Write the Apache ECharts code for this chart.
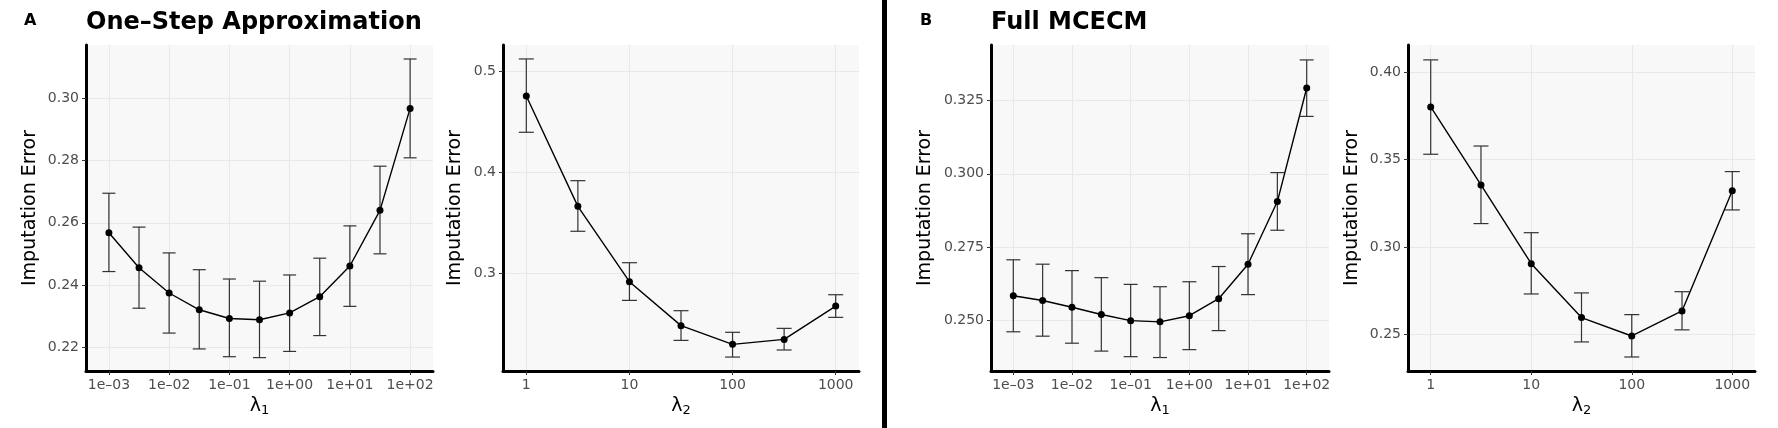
<!DOCTYPE html>
<html>
<head>
<meta charset="utf-8">
<script src="https://cdn.jsdelivr.net/npm/echarts@6/dist/echarts.min.js"></script>
<style>
html,body{margin:0;padding:0;background:#fff;}
#main{width:1778px;height:428px;}
</style>
</head>
<body>
<div id="main"></div>
<script>
// ---- data (x positions are log10 of lambda) ----
const lambda1Log = [-3, -2.5, -2, -1.5, -1, -0.5, 0, 0.5, 1, 1.5, 2];
const lambda2Log = [0, 0.5, 1, 1.5, 2, 2.5, 3];

const lambda1TickPos = [-3, -2, -1, 0, 1, 2];
const lambda1TickLabels = ['1e–03', '1e–02', '1e–01', '1e+00', '1e+01', '1e+02'];
const lambda2TickPos = [0, 1, 2, 3];
const lambda2TickLabels = ['1', '10', '100', '1000'];

// Panel A, lambda1
const a1Mean = [0.2568, 0.2455, 0.2374, 0.2320, 0.2292, 0.2288, 0.2310, 0.2362, 0.2461, 0.2640, 0.2968];
const a1Low  = [0.2443, 0.2325, 0.2245, 0.2194, 0.2169, 0.2166, 0.2186, 0.2237, 0.2331, 0.2500, 0.2809];
const a1High = [0.2695, 0.2586, 0.2503, 0.2449, 0.2419, 0.2412, 0.2432, 0.2486, 0.2590, 0.2782, 0.3127];
// Panel A, lambda2
const a2Mean = [0.4752, 0.3660, 0.2914, 0.2479, 0.2294, 0.2343, 0.2673];
const a2Low  = [0.4393, 0.3413, 0.2729, 0.2333, 0.2168, 0.2238, 0.2561];
const a2High = [0.5119, 0.3914, 0.3102, 0.2627, 0.2413, 0.2452, 0.2785];
// Panel B, lambda1
const b1Mean = [0.2583, 0.2567, 0.2544, 0.2519, 0.2498, 0.2494, 0.2515, 0.2573, 0.2691, 0.2905, 0.3293];
const b1Low  = [0.2460, 0.2445, 0.2421, 0.2394, 0.2375, 0.2372, 0.2399, 0.2464, 0.2587, 0.2807, 0.3196];
const b1High = [0.2706, 0.2691, 0.2669, 0.2645, 0.2622, 0.2614, 0.2631, 0.2683, 0.2795, 0.3004, 0.3389];
// Panel B, lambda2
const b2Mean = [0.3800, 0.3355, 0.2905, 0.2597, 0.2492, 0.2635, 0.3322];
const b2Low  = [0.3530, 0.3134, 0.2732, 0.2458, 0.2372, 0.2527, 0.3212];
const b2High = [0.4069, 0.3577, 0.3082, 0.2738, 0.2614, 0.2745, 0.3431];

const a1YTicks = [0.22, 0.24, 0.26, 0.28, 0.30];
const a2YTicks = [0.3, 0.4, 0.5];
const b1YTicks = [0.250, 0.275, 0.300, 0.325];
const b2YTicks = [0.25, 0.30, 0.35, 0.40];

const titleA = 'One–Step Approximation';
const titleB = 'Full MCECM';
const yName = 'Imputation Error';

// ---- layout ----
const FONT = 'DejaVu Sans';
const panels = [
  {left: 86,   width: 347, x: lambda1Log, mean: a1Mean, lo: a1Low, hi: a1High, xt: lambda1TickPos, xl: lambda1TickLabels,
   xmin: -3.38, xmax: 2.38, ymin: 0.2123, ymax: 0.3172, yt: a1YTicks, yd: 2, sub: '1', gap: 46, cap: 13},
  {left: 503,  width: 356, x: lambda2Log, mean: a2Mean, lo: a2Low, hi: a2High, xt: lambda2TickPos, xl: lambda2TickLabels,
   xmin: -0.226, xmax: 3.226, ymin: 0.2030, ymax: 0.5257, yt: a2YTicks, yd: 1, sub: '2', gap: 38, cap: 15},
  {left: 991,  width: 338, x: lambda1Log, mean: b1Mean, lo: b1Low, hi: b1High, xt: lambda1TickPos, xl: lambda1TickLabels,
   xmin: -3.38, xmax: 2.38, ymin: 0.2326, ymax: 0.3440, yt: b1YTicks, yd: 3, sub: '1', gap: 56, cap: 14},
  {left: 1408, width: 347, x: lambda2Log, mean: b2Mean, lo: b2Low, hi: b2High, xt: lambda2TickPos, xl: lambda2TickLabels,
   xmin: -0.226, xmax: 3.226, ymin: 0.2292, ymax: 0.4154, yt: b2YTicks, yd: 2, sub: '2', gap: 46, cap: 15}
];

const grid = [], xAxis = [], yAxis = [], series = [];
panels.forEach((p, i) => {
  grid.push({left: p.left, top: 45, width: p.width, height: 326, show: true,
    backgroundColor: '#f8f8f8', borderWidth: 0});
  xAxis.push({
    type: 'value', gridIndex: i, min: p.xmin, max: p.xmax,
    name: '{l|λ}{s|' + p.sub + '}', nameLocation: 'middle', nameGap: 25,
    nameTextStyle: {rich: {
      l: {fontFamily: FONT, fontSize: 19, color: '#000'},
      s: {fontFamily: FONT, fontSize: 13, color: '#000', verticalAlign: 'bottom', padding: [8, 0, 0, 0]}
    }},
    axisLine: {show: true, onZero: false, lineStyle: {color: '#000', width: 3}},
    axisTick: {show: true, length: 4, lineStyle: {color: '#333', width: 1}, customValues: p.xt},
    axisLabel: {customValues: p.xt, margin: 7, fontFamily: FONT, fontSize: 14, color: '#4d4d4d',
      formatter: v => { const k = p.xt.indexOf(v); return k >= 0 ? p.xl[k] : ''; }},
    splitLine: {show: true, lineStyle: {color: '#e8e8e8', width: 1}}
  });
  yAxis.push({
    type: 'value', gridIndex: i, min: p.ymin, max: p.ymax,
    name: yName, nameLocation: 'middle', nameGap: p.gap, nameRotate: 90,
    nameTextStyle: {fontFamily: FONT, fontSize: 19, color: '#000'},
    axisLine: {show: true, onZero: false, lineStyle: {color: '#000', width: 3}},
    axisTick: {show: true, length: 4, lineStyle: {color: '#333', width: 1}, customValues: p.yt},
    axisLabel: {customValues: p.yt, margin: 7, fontFamily: FONT, fontSize: 14, color: '#4d4d4d',
      formatter: v => v.toFixed(p.yd)},
    splitLine: {show: true, lineStyle: {color: '#e8e8e8', width: 1}}
  });
  const errData = p.x.map((x, k) => [x, p.lo[k], p.hi[k]]);
  const cap = p.cap;
  series.push({
    type: 'custom', xAxisIndex: i, yAxisIndex: i, data: errData, z: 2,
    renderItem: (params, api) => {
      const x = api.value(0), lo = api.value(1), hi = api.value(2);
      const a = api.coord([x, hi]), b = api.coord([x, lo]);
      const w = cap / 2;
      const st = {stroke: '#333', lineWidth: 1.2};
      return {type: 'group', children: [
        {type: 'line', shape: {x1: a[0], y1: a[1], x2: b[0], y2: b[1]}, style: st},
        {type: 'line', shape: {x1: a[0] - w, y1: a[1], x2: a[0] + w, y2: a[1]}, style: st},
        {type: 'line', shape: {x1: b[0] - w, y1: b[1], x2: b[0] + w, y2: b[1]}, style: st}
      ]};
    }
  });
  series.push({
    type: 'line', xAxisIndex: i, yAxisIndex: i, z: 3,
    data: p.x.map((x, k) => [x, p.mean[k]]),
    symbol: 'circle', symbolSize: 7, showSymbol: true,
    itemStyle: {color: '#000'}, lineStyle: {color: '#000', width: 1.4}
  });
});

const chart = echarts.init(document.getElementById('main'), null, {renderer: 'canvas'});
chart.setOption({
  animation: false,
  backgroundColor: '#fff',
  title: [
    {text: 'A', left: 24, top: 13, padding: 0, textStyle: {fontFamily: FONT, fontWeight: 'bold', fontSize: 16, color: '#000'}},
    {text: titleA, left: 86, top: 11, padding: 0, textStyle: {fontFamily: FONT, fontWeight: 'bold', fontSize: 24, color: '#000'}},
    {text: 'B', left: 920, top: 13, padding: 0, textStyle: {fontFamily: FONT, fontWeight: 'bold', fontSize: 16, color: '#000'}},
    {text: titleB, left: 991, top: 11, padding: 0, textStyle: {fontFamily: FONT, fontWeight: 'bold', fontSize: 24, color: '#000'}}
  ],
  graphic: [
    {type: 'rect', left: 882, top: 0, shape: {width: 5, height: 428}, style: {fill: '#000'}}
  ],
  grid, xAxis, yAxis, series
});
</script>
</body>
</html>
